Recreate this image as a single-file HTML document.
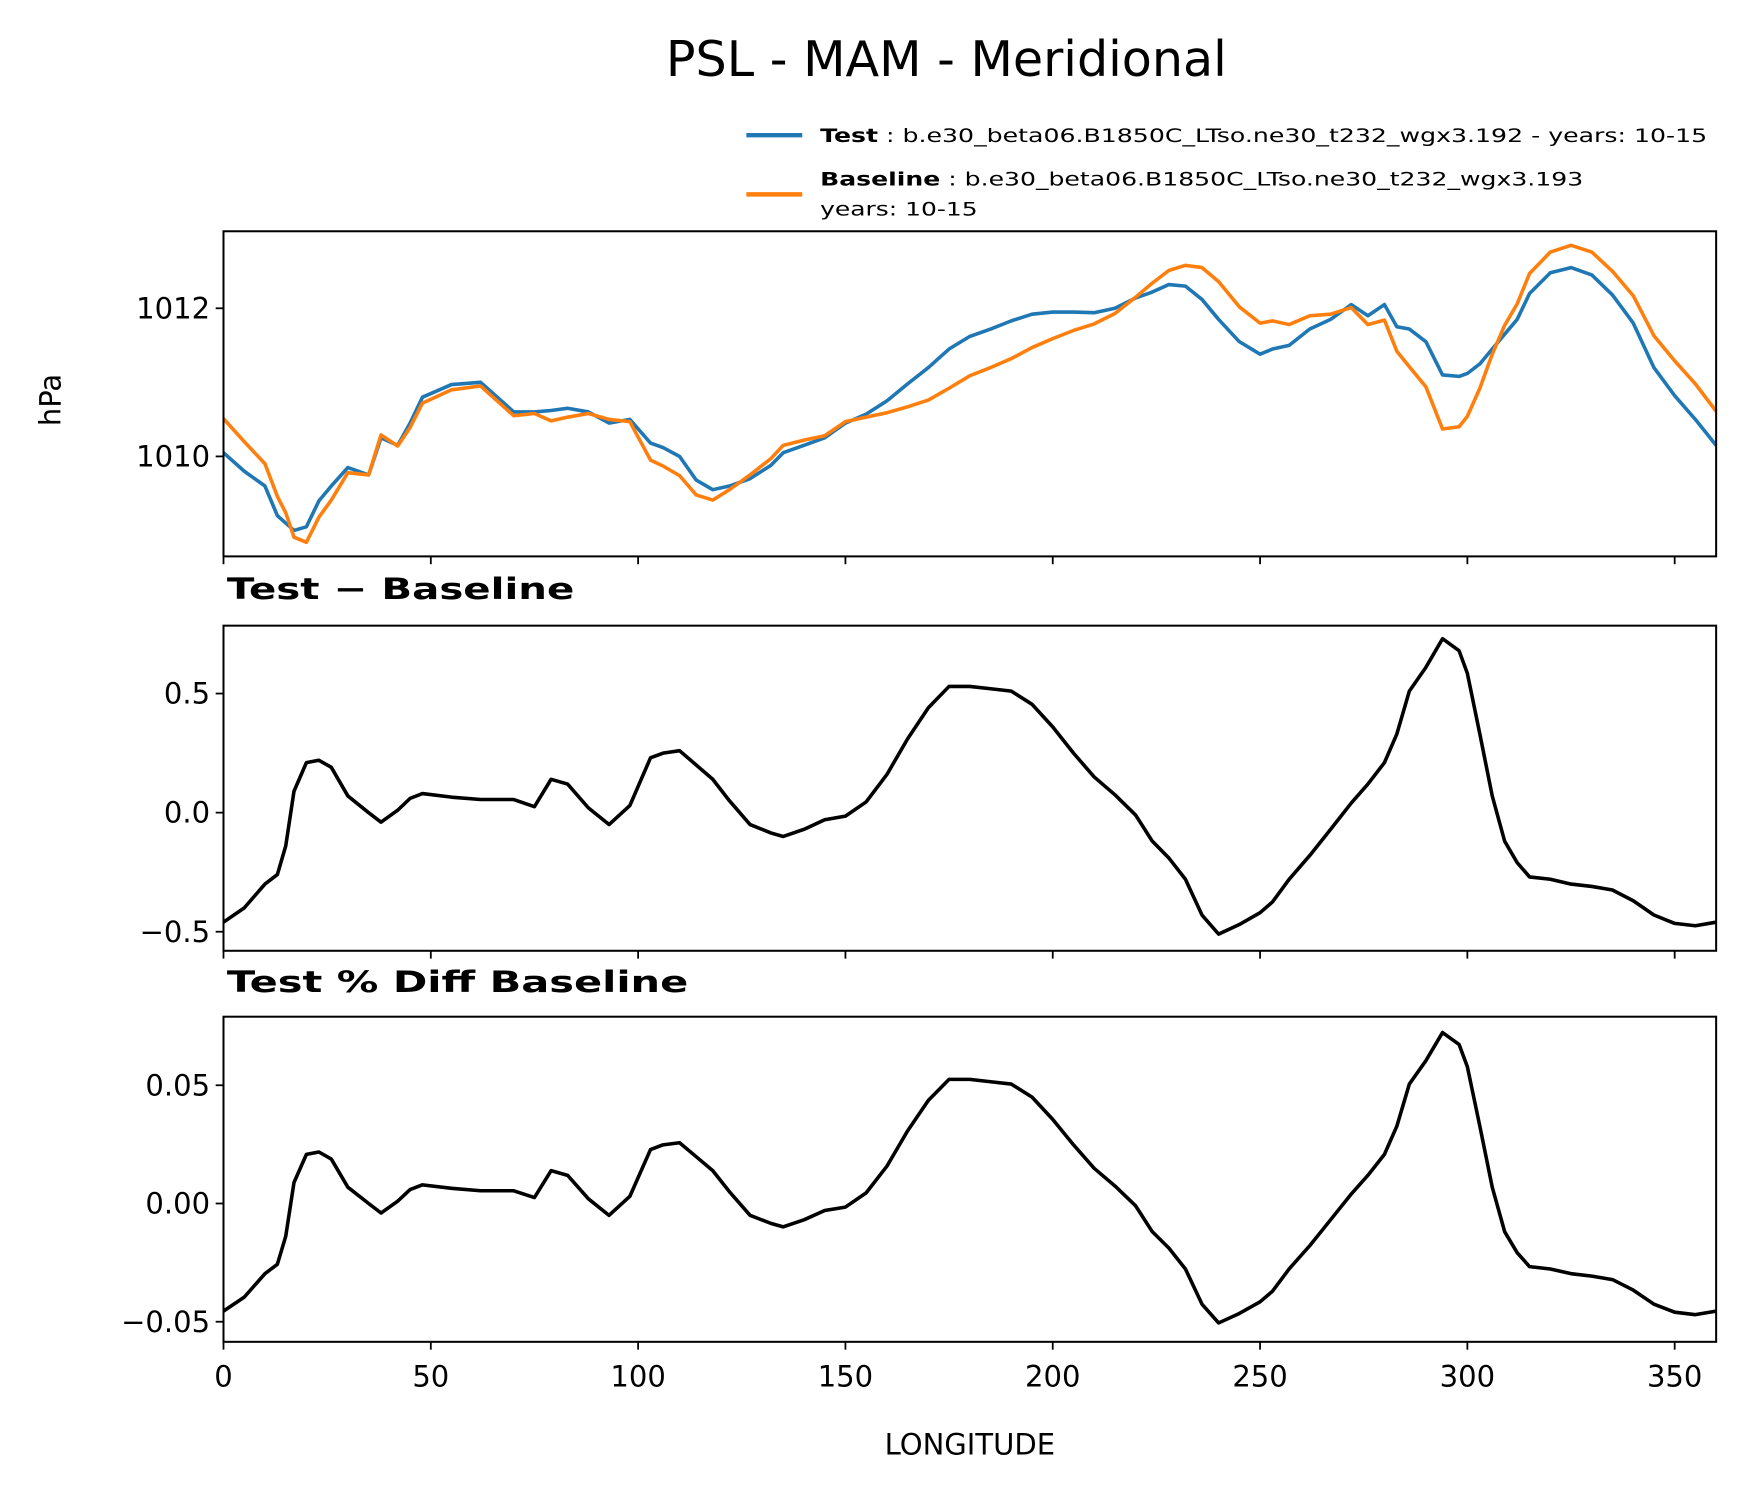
<!DOCTYPE html>
<html><head><meta charset="utf-8"><style>
html,body{margin:0;padding:0;background:#fff}
svg{display:block;font-family:"DejaVu Sans","Liberation Sans",sans-serif}
</style></head><body>
<svg id="chart" width="1743" height="1496" viewBox="0 0 1560 1339" xmlns="http://www.w3.org/2000/svg">
<rect width="1560" height="1339" fill="#fff"/>
<text x="847" y="68" font-size="44" text-anchor="middle">PSL - MAM - Meridional</text>
<g>
<line x1="668" y1="121" x2="718" y2="121" stroke="#1f77b4" stroke-width="4"/>
<text x="734" y="127" font-size="17" textLength="794" lengthAdjust="spacingAndGlyphs"><tspan font-weight="bold">Test</tspan> : b.e30_beta06.B1850C_LTso.ne30_t232_wgx3.192 - years: 10-15</text>
<line x1="668" y1="174" x2="718" y2="174" stroke="#ff7f0e" stroke-width="4"/>
<text x="734" y="166" font-size="17" textLength="683" lengthAdjust="spacingAndGlyphs"><tspan font-weight="bold">Baseline</tspan> : b.e30_beta06.B1850C_LTso.ne30_t232_wgx3.193</text>
<text x="734" y="193" font-size="17" textLength="141" lengthAdjust="spacingAndGlyphs">years: 10-15</text>
</g>
<text transform="translate(54,358) rotate(-90)" font-size="26" text-anchor="middle">hPa</text>
<text x="203" y="536" font-size="26" font-weight="bold" textLength="311" lengthAdjust="spacingAndGlyphs">Test − Baseline</text>
<text x="203" y="888" font-size="26" font-weight="bold" textLength="413" lengthAdjust="spacingAndGlyphs">Test % Diff Baseline</text>
<text x="868" y="1302" font-size="26" text-anchor="middle">LONGITUDE</text>
<g id="plots"></g>
</svg>
<script>
const lons=[0,5,10,13,15,17,20,23,26,30,35,38,42,45,48,55,62,70,75,79,83,88,93,98,103,106,110,114,118,122,127,132,135,140,145,150,155,160,165,170,175,180,185,190,195,200,205,210,215,220,224,228,232,236,240,245,250,253,257,262,267,272,276,280,283,286,290,294,298,300,303,306,309,312,315,320,325,330,335,340,345,350,355,360];
const testVals=[1010.05,1009.8,1009.6,1009.2,1009.1,1009.0,1009.05,1009.4,1009.6,1009.85,1009.75,1010.25,1010.15,1010.45,1010.8,1010.97,1011.0,1010.6,1010.6,1010.62,1010.65,1010.6,1010.45,1010.5,1010.18,1010.12,1010.0,1009.68,1009.55,1009.6,1009.7,1009.88,1010.05,1010.15,1010.25,1010.45,1010.57,1010.75,1010.98,1011.2,1011.45,1011.62,1011.72,1011.83,1011.92,1011.95,1011.95,1011.94,1012.0,1012.14,1012.22,1012.32,1012.3,1012.12,1011.85,1011.55,1011.38,1011.45,1011.5,1011.72,1011.85,1012.05,1011.9,1012.05,1011.75,1011.72,1011.55,1011.1,1011.08,1011.12,1011.25,1011.45,1011.65,1011.85,1012.2,1012.48,1012.55,1012.45,1012.18,1011.8,1011.2,1010.82,1010.5,1010.15];
const baseVals=[1010.51,1010.2,1009.9,1009.46,1009.24,1008.91,1008.84,1009.18,1009.41,1009.78,1009.75,1010.29,1010.14,1010.39,1010.72,1010.9,1010.95,1010.55,1010.58,1010.48,1010.53,1010.58,1010.5,1010.47,1009.95,1009.87,1009.74,1009.48,1009.41,1009.55,1009.75,1009.97,1010.15,1010.22,1010.28,1010.47,1010.53,1010.59,1010.67,1010.76,1010.92,1011.09,1011.2,1011.32,1011.47,1011.59,1011.7,1011.79,1011.93,1012.15,1012.34,1012.51,1012.58,1012.55,1012.36,1012.02,1011.8,1011.83,1011.78,1011.9,1011.92,1012.01,1011.78,1011.84,1011.42,1011.21,1010.94,1010.37,1010.4,1010.54,1010.92,1011.38,1011.77,1012.06,1012.47,1012.76,1012.85,1012.76,1012.5,1012.17,1011.63,1011.29,1010.98,1010.61];
const diffVals=[-0.46,-0.40,-0.30,-0.26,-0.14,0.09,0.21,0.22,0.19,0.07,0,-0.04,0.01,0.06,0.08,0.065,0.055,0.055,0.025,0.14,0.12,0.02,-0.05,0.03,0.23,0.25,0.26,0.2,0.14,0.05,-0.05,-0.085,-0.1,-0.07,-0.03,-0.015,0.045,0.16,0.31,0.44,0.53,0.53,0.52,0.51,0.455,0.36,0.25,0.15,0.075,-0.01,-0.12,-0.19,-0.28,-0.43,-0.51,-0.47,-0.42,-0.375,-0.28,-0.18,-0.07,0.04,0.12,0.21,0.33,0.51,0.61,0.73,0.68,0.585,0.33,0.07,-0.12,-0.21,-0.27,-0.28,-0.30,-0.31,-0.325,-0.37,-0.43,-0.465,-0.475,-0.46];
const pctVals=[-0.0455,-0.0396,-0.0297,-0.0257,-0.0139,0.0089,0.0208,0.0218,0.0188,0.0069,0,-0.004,0.001,0.0059,0.0079,0.0064,0.0054,0.0054,0.0025,0.0139,0.0119,0.002,-0.005,0.003,0.0228,0.0248,0.0257,0.0198,0.0139,0.005,-0.005,-0.0084,-0.0099,-0.0069,-0.003,-0.0015,0.0045,0.0158,0.0307,0.0436,0.0525,0.0525,0.0515,0.0505,0.045,0.0356,0.0248,0.0149,0.0074,-0.001,-0.0119,-0.0188,-0.0277,-0.0426,-0.0505,-0.0465,-0.0416,-0.0371,-0.0277,-0.0178,-0.0069,0.004,0.0119,0.0208,0.0327,0.0505,0.0604,0.0723,0.0673,0.0579,0.0327,0.0069,-0.0119,-0.0208,-0.0267,-0.0277,-0.0297,-0.0307,-0.0322,-0.0366,-0.0426,-0.046,-0.047,-0.0455];
const xTicks=[0,50,100,150,200,250,300,350];
const topTicks=[1010,1012];
const diffTicks=[0.5,0.0,-0.5];
const diffTickLabels=["0.5","0.0","−0.5"];
const pctTicks=[0.05,0.0,-0.05];
const pctTickLabels=["0.05","0.00","−0.05"];

const NS="http://www.w3.org/2000/svg";
const g=document.getElementById('plots');
const X0=200,X1=1536;
function xs(v){return X0+(v/360)*(X1-X0);}
function mk(tag,attrs){const e=document.createElementNS(NS,tag);for(const k in attrs)e.setAttribute(k,attrs[k]);g.appendChild(e);return e;}
function panel(name,top,bot,ymin,ymax,ticks,labels,series,showXLabels){
  const ys=v=>bot-(v-ymin)/(ymax-ymin)*(bot-top);
  series.forEach(s=>{
    const d=lons.map((l,i)=>(i?'L':'M')+xs(l).toFixed(1)+','+ys(s.vals[i]).toFixed(1)).join(' ');
    const p=mk('path',{d:d,fill:'none',stroke:s.color,'stroke-width':3.2,'stroke-linejoin':'round'});
    
    
  });
  const f=mk('rect',{x:X0,y:top,width:X1-X0,height:bot-top,fill:'none',stroke:'#000','stroke-width':1.8});
  
  
  ticks.forEach((t,i)=>{
    const y=ys(t);
    const tl=mk('line',{x1:X0-7,x2:X0,y1:y,y2:y,stroke:'#000','stroke-width':1.6});
    
    
    const tx=mk('text',{x:X0-12,y:y+9,'font-size':26,'text-anchor':'end'});
    tx.textContent=labels[i];
    
    
  });
  xTicks.forEach(t=>{
    const x=xs(t);
    const tl=mk('line',{x1:x,x2:x,y1:bot,y2:bot+7,stroke:'#000','stroke-width':1.6});
    
    
    if(showXLabels){
      const tx=mk('text',{x:x,y:bot+40,'font-size':26,'text-anchor':'middle'});
      tx.textContent=String(t);
      
      
    }
  });
}
panel('top-panel',207,498,1008.65,1013.04,topTicks,topTicks.map(String),[{vals:testVals,color:'#1f77b4',name:'test-line'},{vals:baseVals,color:'#ff7f0e',name:'baseline-line'}],false);
panel('diff-panel',560,851,-0.58,0.785,diffTicks,diffTickLabels,[{vals:diffVals,color:'#000',name:'diff-line'}],false);
panel('pct-panel',910,1201,-0.0585,0.079,pctTicks,pctTickLabels,[{vals:pctVals,color:'#000',name:'pct-diff-line'}],true);
</script>
</body></html>
